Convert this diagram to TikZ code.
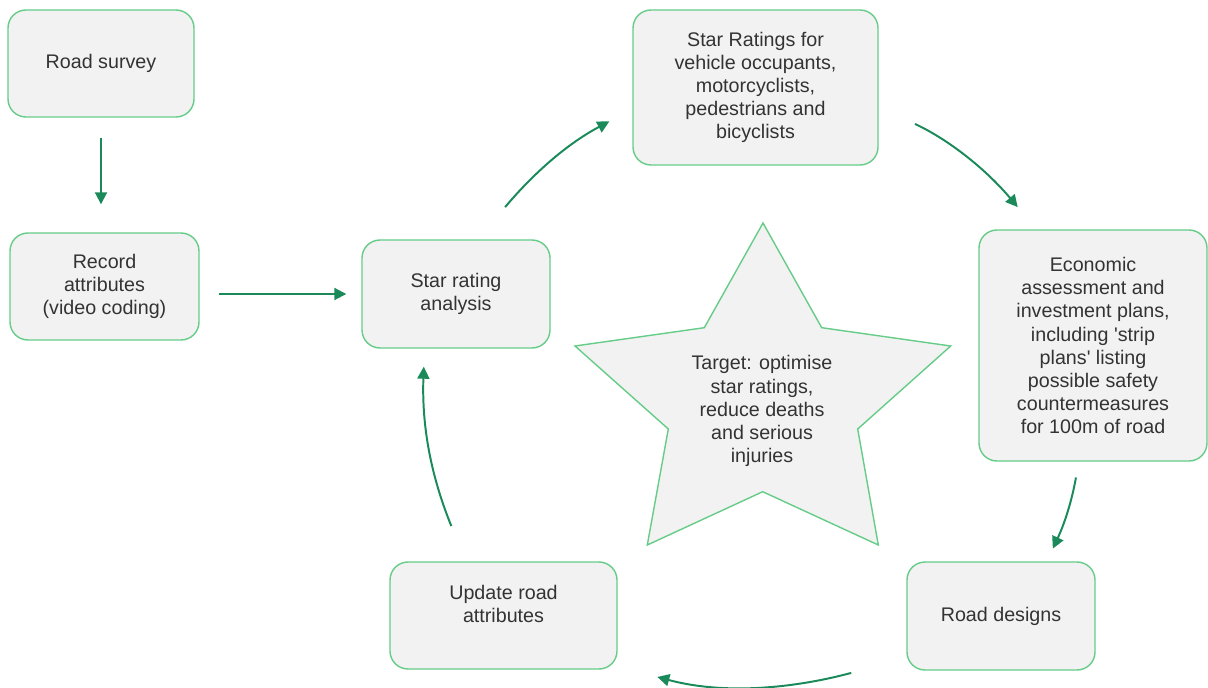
\documentclass[tikz,border=0pt]{standalone}
\usepackage{fontspec}
\setmainfont{Liberation Sans}[Ligatures=TeXOff]
\usetikzlibrary{arrows.meta,calc}
\definecolor{cARR}{HTML}{1A8A5A}
\definecolor{cBRD}{HTML}{66CC88}
\definecolor{cFIL}{HTML}{F2F2F2}
\definecolor{cTXT}{HTML}{333333}

\begin{document}
\begin{tikzpicture}[x=0.025cm, y=0.025cm, font=\fontsize{14}{16.4}\selectfont,
  box/.style={draw=cBRD, line width=1pt, fill=cFIL, rounded corners=0.45cm, align=center, text=cTXT, inner sep=0pt},
  flow/.style={draw=cARR, line width=1.4pt, -{Triangle[length=0.3cm, width=0.3cm]}}]
\useasboundingbox (0,0) rectangle (1208,-688);
% boxes
\node[box, minimum width=186*0.025cm, minimum height=107*0.025cm] (survey) at (101,-63.5) {Road survey};
\node[box, minimum width=189*0.025cm, minimum height=107*0.025cm] (record) at (104.5,-286.5) {Record\\ attributes\\ (video coding)};
\node[box, minimum width=188*0.025cm, minimum height=108*0.025cm] (analysis) at (456,-294) {Star rating\\ analysis};
\node[box, minimum width=245*0.025cm, minimum height=155*0.025cm] (ratings) at (755.5,-87.5) {Star Ratings for\\ vehicle occupants,\\ motorcyclists,\\ pedestrians and\\ bicyclists};
\node[box, minimum width=228*0.025cm, minimum height=231*0.025cm] (econ) at (1093,-345.5) {Economic\\ assessment and\\ investment plans,\\ including 'strip\\ plans' listing\\ possible safety\\ countermeasures\\ for 100m of road};
\node[box, minimum width=188*0.025cm, minimum height=108*0.025cm] (designs) at (1001,-616) {Road designs};
\node[box, minimum width=227*0.025cm, minimum height=107*0.025cm] (update) at (503.5,-615.5) {Update road\\ attributes\\ ~};
% star in the middle
\draw[draw=cBRD, line width=1pt, fill=cFIL] (763,-223) -- (821.7,-327.7) -- (950.7,-346) -- (857.7,-429) -- (878.3,-545)
  -- (762.7,-491.7) -- (647.3,-545) -- (668.3,-429) -- (575,-346) -- (704.3,-327.7) -- cycle;
\node[align=center, text=cTXT] (target) at (762,-411) {Target: optimise\\ star ratings,\\ reduce deaths\\ and serious\\ injuries};
% arrows
\draw[flow, shorten <=20*0.025cm, shorten >=28*0.025cm] (survey.south) -- (survey.south |- record.north);
\draw[flow, shorten <=19*0.025cm, shorten >=15*0.025cm] (record.east |- analysis.west) -- (analysis.west);
\draw[flow, shorten <=42*0.025cm, shorten >=26*0.025cm] (analysis.68) to[out=50, in=208] (ratings.190);
\draw[flow, shorten <=40*0.025cm, shorten >=29*0.025cm] (ratings.351) to[out=-25, in=130] (econ.116);
\draw[flow, shorten <=16*0.025cm, shorten >=14*0.025cm] (econ.263) to[out=-100, in=65] (designs.50);
\draw[flow, shorten <=57*0.025cm, shorten >=41*0.025cm] (designs.204) to[out=195, in=345] (update.336);
\draw[flow, shorten <=38*0.025cm, shorten >=18*0.025cm] (update.125) to[out=112, in=268] (analysis.240);
\end{tikzpicture}
\end{document}
